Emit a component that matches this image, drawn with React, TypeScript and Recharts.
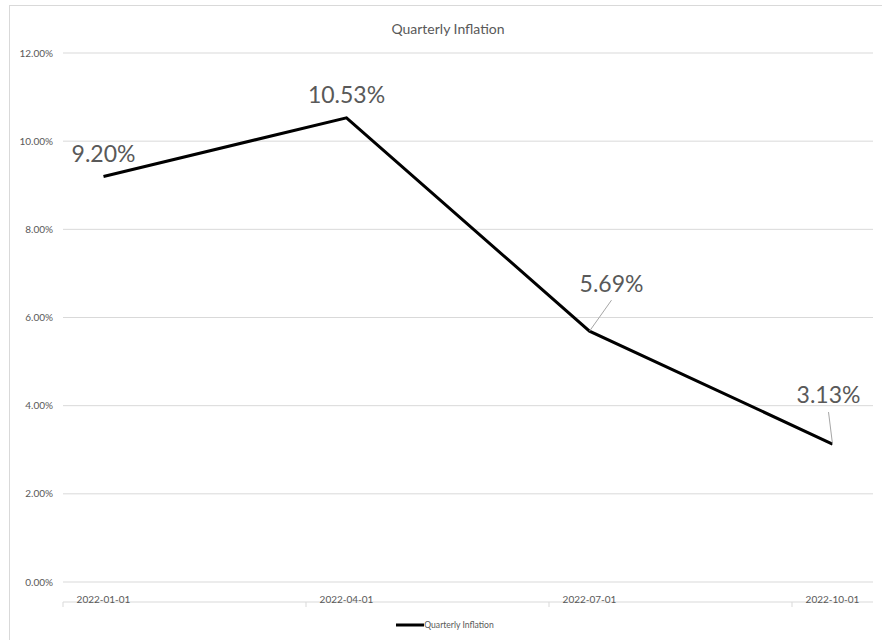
import React from 'react';
import {
  CartesianGrid,
  LabelList,
  Legend,
  Line,
  LineChart,
  XAxis,
  YAxis,
} from 'recharts';

// ─── Data ────────────────────────────────────────────────────────────

const SERIES_NAME = 'Quarterly Inflation';
const DATES = ['2022-01-01', '2022-04-01', '2022-07-01', '2022-10-01'];
const INFLATION = [9.2, 10.53, 5.69, 3.13];
const Y_TICKS = [0, 2, 4, 6, 8, 10, 12];

// ─── Layout ──────────────────────────────────────────────────────────

const WIDTH = 882;
const HEIGHT = 640;
const FONT = 'Lato, "Open Sans", sans-serif';
const TEXT = '#595959';
const GRID = '#d9d9d9';

// label offsets from each point (dx, dy) and optional leader end
const LABEL_OFFSETS: { dx: number; dy: number; leader?: [number, number] }[] = [
  { dx: 0, dy: -23 },
  { dx: 0, dy: -24 },
  { dx: 22, dy: -48, leader: [22, -31] },
  { dx: -4, dy: -50, leader: [-4, -32] },
];

// ─── Helpers ─────────────────────────────────────────────────────────

// months since the first date, so the x axis is a date scale with month bands
function monthIndex(date: string): number {
  const [y, m] = date.split('-').map(Number);
  const [y0, m0] = DATES[0].split('-').map(Number);
  return (y - y0) * 12 + (m - m0);
}

const data = DATES.map((date, i) => ({
  date,
  pos: monthIndex(date) + 0.5,
  value: INFLATION[i],
}));

const MONTHS = monthIndex(DATES[DATES.length - 1]) + 1;
const MAJOR_TICKS = DATES.map((d) => monthIndex(d));
const LABEL_TICKS = data.map((d) => d.pos);

const formatPct = (v: number) => `${v.toFixed(2)}%`;

const DataLabel = (props: any) => {
  const { x, y, value, index } = props;
  const off = LABEL_OFFSETS[index] ?? { dx: 0, dy: -24 };
  return (
    <g>
      {off.leader && (
        <line
          x1={x}
          y1={y}
          x2={x + off.leader[0]}
          y2={y + off.leader[1]}
          stroke="#a6a6a6"
          strokeWidth={1}
        />
      )}
      <text
        x={x + off.dx}
        y={y + off.dy}
        textAnchor="middle"
        dominantBaseline="central"
        fontSize={23}
        fontFamily={FONT}
        fill={TEXT}
      >
        {formatPct(Number(value))}
      </text>
    </g>
  );
};

const LegendContent = () => (
  <div
    style={{
      display: 'flex',
      justifyContent: 'center',
      alignItems: 'center',
      fontFamily: FONT,
      fontSize: 8.6,
      color: TEXT,
      paddingLeft: 8,
    }}
  >
    <svg width={28} height={6}>
      <line x1={0} y1={3} x2={28} y2={3} stroke="#000" strokeWidth={3} />
    </svg>
    <span>{SERIES_NAME}</span>
  </div>
);

// ─── Component ───────────────────────────────────────────────────────

export default function App() {
  return (
    <div
      style={{
        position: 'absolute',
        left: 0,
        top: 0,
        width: WIDTH,
        height: HEIGHT,
        overflow: 'hidden',
        background: '#fff',
      }}
    >
      <div
        style={{
          position: 'absolute',
          left: 9,
          top: 5,
          width: WIDTH + 20,
          height: HEIGHT + 20,
          border: `1px solid ${GRID}`,
        }}
      />
      <div
        style={{
          position: 'absolute',
          left: 0,
          top: 20,
          width: 896,
          textAlign: 'center',
          fontFamily: FONT,
          fontSize: 14,
          color: TEXT,
        }}
      >
        {SERIES_NAME}
      </div>
      <LineChart
        width={WIDTH}
        height={HEIGHT}
        data={data}
        margin={{ top: 53, right: 9, left: 8, bottom: 23 }}
        style={{ fontFamily: FONT, position: 'absolute', left: 0, top: 0 }}
      >
        <CartesianGrid horizontal vertical={false} stroke={GRID} />
        <XAxis
          xAxisId="pos"
          dataKey="pos"
          type="number"
          domain={[0, MONTHS]}
          ticks={MAJOR_TICKS}
          tick={() => <g />}
          height={5}
          tickSize={5}
          axisLine={{ stroke: GRID }}
          tickLine={{ stroke: GRID }}
        />
        <XAxis
          xAxisId="labels"
          dataKey="pos"
          type="number"
          domain={[0, MONTHS]}
          ticks={LABEL_TICKS}
          tickFormatter={(v: number) => data.find((d) => d.pos === v)?.date ?? ''}
          height={20}
          axisLine={false}
          tickLine={false}
          tickMargin={8}
          tick={{ fontSize: 10, fill: TEXT, stroke: 'none' }}
        />
        <YAxis
          domain={[0, 12]}
          ticks={Y_TICKS}
          tickFormatter={formatPct}
          width={55}
          axisLine={false}
          tickLine={false}
          tickSize={0}
          tickMargin={10}
          tick={{ fontSize: 10, fill: TEXT, stroke: 'none' }}
        />
        <Legend
          verticalAlign="bottom"
          content={LegendContent}
          wrapperStyle={{ left: 0, width: WIDTH, bottom: 10 }}
        />
        <Line
          xAxisId="pos"
          type="linear"
          dataKey="value"
          name={SERIES_NAME}
          stroke="#000"
          strokeWidth={3}
          dot={false}
          activeDot={false}
          isAnimationActive={false}
        >
          <LabelList dataKey="value" content={DataLabel} />
        </Line>
      </LineChart>
    </div>
  );
}
